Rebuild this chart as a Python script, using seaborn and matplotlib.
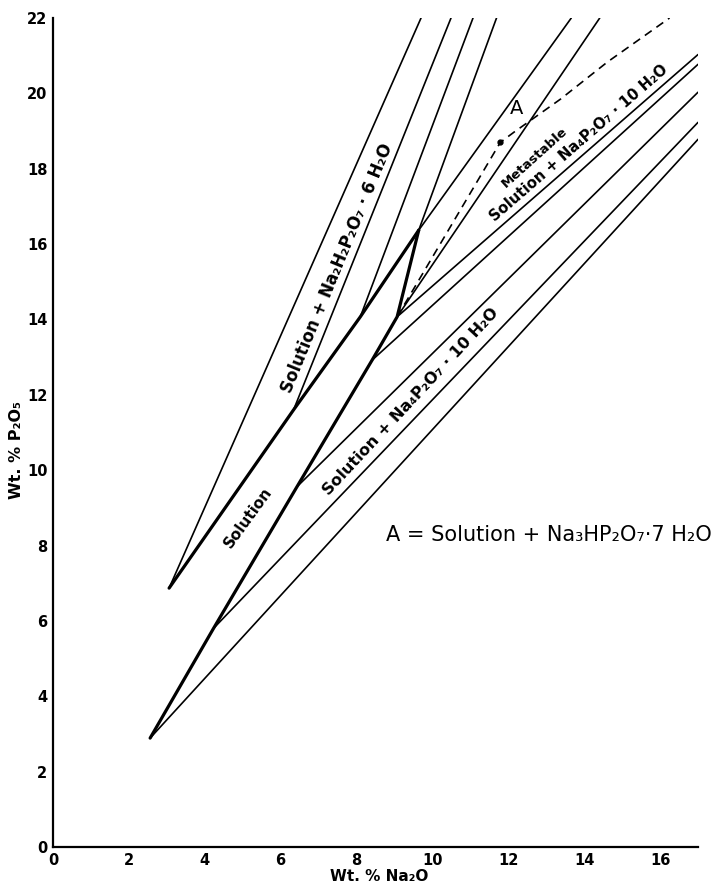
import matplotlib
matplotlib.use("Agg")
import matplotlib.pyplot as plt
import seaborn as sns

sns.set_style("white")
plt.rcParams['font.family'] = ['DejaVu Sans']
plt.rcParams['text.color'] = 'black'

# ---- data (wt % Na2O, wt % P2O5) ----
# upper wedge (Na2H2P2O7.6H2O field)
line1_x = [3.06, 9.70];  line1_y = [6.87, 22.0]
upper_thick_x = [3.06, 6.34, 8.10, 9.64];  upper_thick_y = [6.87, 11.60, 14.07, 16.37]
line5_x = [9.64, 13.66]; line5_y = [16.37, 22.0]
line2_x = [6.34, 10.49]; line2_y = [11.60, 22.0]
line3_x = [8.10, 11.07]; line3_y = [14.07, 22.0]
line4_x = [9.64, 11.69]; line4_y = [16.37, 22.0]
# lower wedge (Na4P2O7.10H2O fields)
lower_thick_x = [2.56, 4.23, 6.43, 8.41, 9.07, 9.64]
lower_thick_y = [2.89, 5.80, 9.56, 12.92, 14.07, 16.37]
linea_x = [2.56, 17.0]; linea_y = [2.89, 18.78]
lineb_x = [4.23, 17.0]; lineb_y = [5.80, 19.23]
linec_x = [6.43, 17.0]; linec_y = [9.56, 20.03]
lined_x = [8.41, 17.0]; lined_y = [12.92, 20.77]
linee_x = [9.07, 17.0]; linee_y = [14.07, 21.03]
line6_x = [9.07, 14.41]; line6_y = [14.07, 22.0]
# metastable (dashed) curve
dash_x = [9.07, 11.79, 12.15, 13.38, 14.61, 16.25]
dash_y = [14.07, 18.70, 18.97, 19.85, 20.83, 22.0]
arrow_x = [11.79]; arrow_y = [18.70]

x_ticks = [0, 2, 4, 6, 8, 10, 12, 14, 16]
y_ticks = [0, 2, 4, 6, 8, 10, 12, 14, 16, 18, 20, 22]

thin = [(line1_x, line1_y), (line5_x, line5_y), (line2_x, line2_y),
        (line3_x, line3_y), (line4_x, line4_y), (linea_x, linea_y),
        (lineb_x, lineb_y), (linec_x, linec_y), (lined_x, lined_y),
        (linee_x, linee_y), (line6_x, line6_y)]
thick = [(upper_thick_x, upper_thick_y), (lower_thick_x, lower_thick_y)]

fig = plt.figure(figsize=(7.23, 8.86), dpi=100)
ax = fig.add_axes([53/723, 39/886, 645/723, 829/886])

for xs, ys in thin:
    sns.lineplot(x=xs, y=ys, ax=ax, sort=False, estimator=None,
                 color='black', lw=1.2)
for xs, ys in thick:
    sns.lineplot(x=xs, y=ys, ax=ax, sort=False, estimator=None,
                 color='black', lw=2.3)
sns.lineplot(x=dash_x, y=dash_y, ax=ax, sort=False, estimator=None,
             color='black', lw=1.2)
ax.lines[-1].set_dashes((5, 3.5))
ax.plot(arrow_x, arrow_y, marker='o', ms=3.5, color='black', ls='none')

ax.set_xlim(0, 17)
ax.set_ylim(0, 22)
ax.set_xticks(x_ticks)
ax.set_yticks(y_ticks)
ax.set_xticklabels([str(v) for v in x_ticks], fontweight='bold', fontsize=10.5)
ax.set_yticklabels([str(v) for v in y_ticks], fontweight='bold', fontsize=10.5)
ax.tick_params(direction='in', length=5, width=1.3, pad=4, colors='black')
for s in ['top', 'right']:
    ax.spines[s].set_visible(False)
for s in ['left', 'bottom']:
    ax.spines[s].set_linewidth(1.6)
    ax.spines[s].set_color('black')

ax.set_xlabel('Wt. % Na₂O', fontweight='bold', fontsize=11, color='black')
ax.set_ylabel('Wt. % P₂O₅', fontweight='bold', fontsize=11.5, color='black')
ax.xaxis.set_label_coords(0.505, -0.026)
ax.yaxis.set_label_coords(-0.045, 0.479)

kw = dict(ha='center', va='center', rotation_mode='anchor', fontweight='bold',
          color='black')
ax.text(7.48, 15.37, 'Solution + Na₂H₂P₂O₇ · 6 H₂O', rotation=67.7, fontsize=12, **kw)
ax.text(5.15, 8.75, 'Solution', rotation=54, fontsize=11, **kw)
ax.text(9.42, 11.83, 'Solution + Na₄P₂O₇ · 10 H₂O', rotation=47, fontsize=11.5, **kw)
ax.text(12.69, 18.29, 'Metastable', rotation=42, fontsize=9.5, **kw)
ax.text(13.85, 18.69, 'Solution + Na₄P₂O₇ · 10 H₂O', rotation=41, fontsize=10.6, **kw)
ax.text(12.23, 19.59, 'A', ha='center', va='center', fontsize=14, color='black')
ax.text(13.06, 8.28, 'A = Solution + Na₃HP₂O₇·7 H₂O', ha='center', va='center',
        fontsize=15, color='black')

fig.savefig('out.png', dpi=100)
